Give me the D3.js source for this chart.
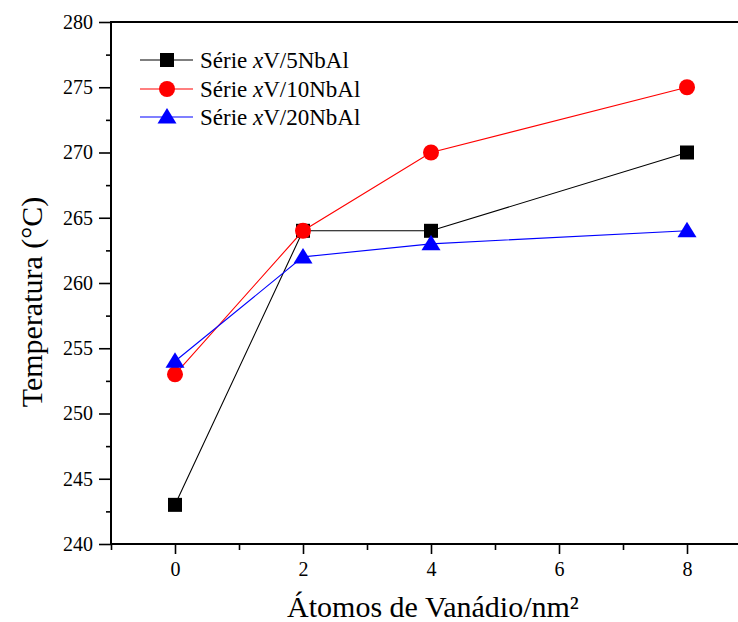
<!DOCTYPE html>
<html>
<head>
<meta charset="utf-8">
<script src="https://cdn.jsdelivr.net/npm/d3@7"></script>
<style>
  html, body { margin: 0; padding: 0; background: #fff; }
  svg { display: block; }
  text { font-family: "Liberation Serif", "Times New Roman", serif; fill: #000; }
</style>
</head>
<body>
<svg id="chart" width="738" height="622"></svg>
<script>
// Vanadium loading (atoms/nm²) and reduction temperature per series
const atoms = [0, 2, 4, 8];
const seriesNames = ["Série xV/5NbAl", "Série xV/10NbAl", "Série xV/20NbAl"];
const temp5 = [243, 264, 264, 270];
const temp10 = [253, 264, 270, 275];
const temp20 = [254, 262, 263, 264];
const xTicks = [0, 2, 4, 6, 8];
const yTicks = [240, 245, 250, 255, 260, 265, 270, 275, 280];

const series = [
  { label: "5NbAl", values: temp5, color: "#000000", shape: "square" },
  { label: "10NbAl", values: temp10, color: "#ff0000", shape: "circle" },
  { label: "20NbAl", values: temp20, color: "#0000ff", shape: "triangle" }
];

const svg = d3.select("#chart");
const plotLeft = 111, plotTop = 22, plotBottom = 544;

const x = d3.scaleLinear().domain([-1, 9]).range([plotLeft, plotLeft + 640]);
const y = d3.scaleLinear().domain([240, 280]).range([plotBottom, plotTop]);

// minor ticks
const xMinor = d3.range(-1, 10, 2);
const yMinor = d3.range(242.5, 280, 5);

const serif = "'Liberation Serif', 'Times New Roman', serif";

function styleAxis(g) {
  g.attr("font-family", serif).attr("font-size", 20);
  g.select(".domain").remove();
  g.selectAll(".tick line").attr("stroke", "#000").attr("stroke-width", 1.6);
}

svg.append("g").attr("transform", `translate(0,${plotBottom})`)
  .call(d3.axisBottom(x).tickValues(xMinor).tickSize(6).tickFormat(""))
  .call(styleAxis);
svg.append("g").attr("transform", `translate(0,${plotBottom})`)
  .call(d3.axisBottom(x).tickValues(xTicks).tickSize(10).tickPadding(8).tickFormat(d3.format("d")))
  .call(styleAxis);

svg.append("g").attr("transform", `translate(${plotLeft},0)`)
  .call(d3.axisLeft(y).tickValues(yMinor).tickSize(5).tickFormat(""))
  .call(styleAxis);
svg.append("g").attr("transform", `translate(${plotLeft},0)`)
  .call(d3.axisLeft(y).tickValues(yTicks).tickSize(12).tickPadding(6).tickFormat(d3.format("d")))
  .call(styleAxis);

// frame: left, bottom, top
const frame = svg.append("g").attr("stroke", "#000").attr("stroke-width", 2).attr("fill", "none");
frame.append("line").attr("x1", x(-1)).attr("x2", x(-1)).attr("y1", y(280) - 1).attr("y2", y(240) + 1);
frame.append("line").attr("x1", x(-1) - 1).attr("x2", x(9)).attr("y1", y(240)).attr("y2", y(240));
frame.append("line").attr("x1", x(-1) - 1).attr("x2", x(9)).attr("y1", y(280)).attr("y2", y(280));

function marker(g, shape, color, cx, cy) {
  if (shape === "square") {
    g.append("rect").attr("x", cx - 7).attr("y", cy - 7).attr("width", 14).attr("height", 14).attr("fill", color);
  } else if (shape === "circle") {
    g.append("circle").attr("cx", cx).attr("cy", cy).attr("r", 8).attr("fill", color);
  } else {
    g.append("path")
      .attr("d", `M${cx},${cy - 9} L${cx + 9.5},${cy + 6.5} L${cx - 9.5},${cy + 6.5} Z`)
      .attr("fill", color);
  }
}

const line = d3.line().x((d, i) => x(atoms[i])).y(d => y(d));

series.forEach(s => {
  const g = svg.append("g");
  g.append("path").datum(s.values).attr("d", line)
    .attr("fill", "none").attr("stroke", s.color).attr("stroke-width", 1.1);
  s.values.forEach((v, i) => marker(g, s.shape, s.color, x(atoms[i]), y(v)));
});

// legend
const legendRows = [60, 89, 117];
series.forEach((s, i) => {
  const g = svg.append("g");
  const cy = legendRows[i];
  g.append("line").attr("x1", 140).attr("x2", 193).attr("y1", cy).attr("y2", cy)
    .attr("stroke", s.color).attr("stroke-width", 1.1);
  marker(g, s.shape, s.color, 167, cy);
  const t = g.append("text").attr("x", 200).attr("y", cy + 8).style("font-size", "23px");
  t.append("tspan").text("Série ");
  t.append("tspan").style("font-style", "italic").text("x");
  t.append("tspan").text("V/" + s.label);
});

// axis titles
svg.append("text").attr("text-anchor", "middle")
  .attr("transform", `translate(42,302) rotate(-90)`)
  .style("font-size", "30px").text("Temperatura (°C)");
svg.append("text").attr("text-anchor", "middle")
  .attr("x", 433).attr("y", 617)
  .style("font-size", "30px").text("Átomos de Vanádio/nm²");
</script>
</body>
</html>
